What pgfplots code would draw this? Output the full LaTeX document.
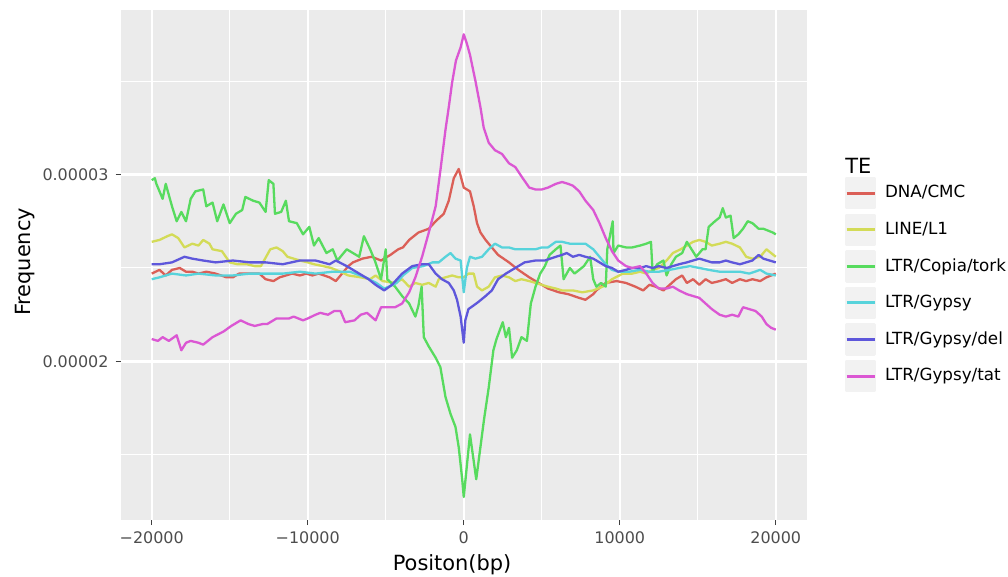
\documentclass[border=0pt]{standalone}
\usepackage{fontspec}
\setmainfont{DejaVu Sans}
\usepackage{pgfplots}
\pgfplotsset{compat=1.18}
\definecolor{panel}{HTML}{EBEBEB}
\definecolor{keybg}{HTML}{F2F2F2}
\definecolor{ticktext}{HTML}{4D4D4D}
\definecolor{teDNA}{HTML}{DB5F57}
\definecolor{teLINE}{HTML}{D3DB57}
\definecolor{teCopia}{HTML}{57DB5E}
\definecolor{teGypsy}{HTML}{57D3DB}
\definecolor{teDel}{HTML}{5E57DB}
\definecolor{teTat}{HTML}{DB57D3}

\begin{document}
\begin{tikzpicture}
\path[use as bounding box] (-60.25bp,-28.5bp) rectangle (443.75bp,260bp);
\begin{axis}[
  scale only axis, width=343.25bp, height=255bp,
  at={(0,0)}, anchor=south west,
  clip mode=individual,
  xmin=-22000, xmax=22000, ymin=1.152, ymax=3.880,
  scaled x ticks=false, scaled y ticks=false,
  axis background/.style={fill=panel},
  axis line style={draw=none},
  xtick={-20000,-10000,0,10000,20000},
  xticklabels={−20000,−10000,0,10000,20000},
  minor xtick={-15000,-5000,5000,15000},
  ytick={2,3}, yticklabels={0.00002,0.00003},
  minor ytick={1.5,2.5,3.5},
  grid=both,
  major grid style={white, line width=1.1bp},
  minor grid style={white, line width=0.5bp},
  tick pos=left, tick align=outside,
  major tick length=2.5bp, minor tick length=0pt,
  tick style={color=black!75, line width=0.5bp},
  ticklabel style={font=\fontsize{8}{9.6}\selectfont, text=ticktext},
  xlabel={Positon(bp)}, ylabel={Frequency},
  label style={font=\fontsize{10.5}{12}\selectfont},
  xlabel style={at={(axis description cs:0.483,-0.088)}, anchor=center},
  ylabel style={at={(axis description cs:-0.139,0.506)}, anchor=center},
  every axis plot/.append style={line width=1.15bp, line join=round},
  legend style={at={(axis description cs:1.0554,0.6725)}, anchor=north west,
    draw=none, fill=none, inner sep=0pt, outer sep=0pt,
    row sep=2.15bp, column sep=2.5bp, font=\fontsize{8.4}{10}\selectfont},
  legend cell align=left,
  legend image code/.code={
    \fill[keybg] (0bp,-7.5bp) rectangle (14bp,7.5bp);
    \draw[#1, line width=1.5bp] (0bp,0bp) -- (14bp,0bp);},
]
% DNA/CMC
\addplot[teDNA] coordinates {
(-20000,2.47)(-19500,2.49)(-19100,2.46)(-18700,2.49)(-18200,2.50)(-17800,2.48)
(-17400,2.48)(-17000,2.47)(-16500,2.48)(-15900,2.47)(-15200,2.45)(-14800,2.45)
(-14400,2.47)(-13700,2.47)(-13100,2.47)(-12700,2.44)(-12200,2.43)(-11800,2.45)
(-11400,2.46)(-11000,2.47)(-10500,2.46)(-10100,2.47)(-9700,2.46)(-9300,2.47)
(-8600,2.45)(-8200,2.43)(-7800,2.47)(-7400,2.51)(-7100,2.53)(-6500,2.55)
(-5900,2.56)(-5300,2.54)(-4700,2.57)(-4200,2.60)(-3900,2.61)(-3500,2.65)
(-2900,2.69)(-2240,2.71)(-1800,2.75)(-1280,2.79)(-960,2.86)(-640,2.98)
(-320,3.03)(0,2.93)(200,2.92)(400,2.91)(640,2.83)(850,2.74)(1070,2.69)
(1400,2.65)(1800,2.61)(2200,2.57)(2900,2.53)(3500,2.49)(4200,2.45)(4800,2.42)
(5400,2.39)(6100,2.37)(6700,2.36)(7400,2.34)(7800,2.33)(8300,2.36)(8500,2.38)
(9100,2.42)(9800,2.43)(10400,2.42)(11000,2.40)(11500,2.38)(11900,2.41)
(12300,2.40)(12800,2.38)(13200,2.41)(13600,2.44)(14000,2.46)(14300,2.42)
(14700,2.44)(15100,2.41)(15500,2.44)(15900,2.42)(16400,2.43)(16800,2.44)
(17200,2.42)(17700,2.44)(18100,2.43)(18500,2.44)(19000,2.43)(19400,2.45)
(20000,2.47)};
\addlegendentry{DNA/CMC}
% LINE/L1
\addplot[teLINE] coordinates {
(-20000,2.64)(-19500,2.65)(-19000,2.67)(-18700,2.68)(-18300,2.66)(-17900,2.61)
(-17400,2.63)(-17000,2.62)(-16700,2.65)(-16300,2.63)(-16100,2.60)(-15500,2.59)
(-15000,2.53)(-14500,2.52)(-13900,2.52)(-13400,2.51)(-13000,2.51)(-12400,2.60)
(-12000,2.61)(-11600,2.59)(-11300,2.56)(-10900,2.55)(-10500,2.54)(-10000,2.53)
(-9600,2.52)(-9000,2.51)(-8500,2.50)(-7900,2.48)(-7400,2.46)(-6600,2.45)
(-6000,2.44)(-5650,2.46)(-5200,2.43)(-4400,2.42)(-3950,2.44)(-3500,2.40)
(-3100,2.42)(-2670,2.41)(-2240,2.42)(-1800,2.40)(-1600,2.44)(-1170,2.45)
(-750,2.46)(-320,2.45)(0,2.45)(300,2.47)(640,2.47)(850,2.40)(1170,2.38)
(1600,2.40)(2000,2.45)(2450,2.46)(2900,2.45)(3300,2.43)(3700,2.44)(4200,2.43)
(4600,2.42)(5000,2.41)(5400,2.40)(5900,2.39)(6300,2.38)(7000,2.38)(7600,2.37)
(8300,2.38)(8900,2.40)(9500,2.44)(10200,2.47)(10800,2.47)(11300,2.48)
(11700,2.47)(12100,2.49)(12500,2.50)(13000,2.54)(13400,2.58)(13900,2.60)
(14300,2.62)(14700,2.64)(15100,2.65)(15500,2.64)(15900,2.62)(16400,2.63)
(16800,2.64)(17200,2.63)(17700,2.61)(18100,2.56)(18500,2.55)(19000,2.56)
(19400,2.60)(19700,2.58)(20000,2.56)};
\addlegendentry{LINE/L1}
% LTR/Copia/tork
\addplot[teCopia] coordinates {
(-20000,2.97)(-19800,2.98)(-19700,2.95)(-19300,2.87)(-19100,2.95)(-18700,2.83)
(-18400,2.75)(-18100,2.80)(-17800,2.75)(-17500,2.87)(-17200,2.91)(-16700,2.92)
(-16500,2.83)(-16100,2.85)(-15800,2.75)(-15400,2.84)(-15000,2.74)(-14600,2.79)
(-14200,2.81)(-14000,2.88)(-13500,2.86)(-13100,2.85)(-12700,2.80)(-12500,2.97)
(-12200,2.95)(-12100,2.79)(-11700,2.80)(-11400,2.86)(-11200,2.75)(-10700,2.74)
(-10300,2.68)(-9900,2.72)(-9600,2.62)(-9300,2.66)(-8800,2.58)(-8400,2.60)
(-8100,2.54)(-7500,2.60)(-7100,2.58)(-6700,2.56)(-6400,2.67)(-6000,2.60)
(-5700,2.54)(-5300,2.44)(-5000,2.60)(-4900,2.44)(-4400,2.40)(-3950,2.35)
(-3500,2.31)(-3100,2.24)(-2900,2.30)(-2700,2.40)(-2560,2.13)(-2240,2.08)
(-1800,2.02)(-1500,1.97)(-1170,1.81)(-850,1.72)(-530,1.65)(-320,1.54)
(-100,1.37)(0,1.275)(400,1.61)(800,1.37)(1300,1.69)(1600,1.86)(1900,2.06)
(2100,2.12)(2500,2.21)(2700,2.13)(2900,2.18)(3100,2.02)(3400,2.06)(3700,2.13)
(4050,2.11)(4300,2.31)(4600,2.40)(4900,2.47)(5200,2.51)(5500,2.57)(5900,2.60)
(6200,2.62)(6400,2.44)(6800,2.50)(7100,2.47)(7400,2.49)(7700,2.51)(8100,2.56)
(8300,2.44)(8500,2.40)(8800,2.42)(9100,2.40)(9200,2.60)(9550,2.75)(9600,2.58)
(9900,2.62)(10400,2.61)(10800,2.61)(11300,2.62)(11700,2.63)(12000,2.64)
(12100,2.48)(12400,2.52)(12800,2.54)(13000,2.46)(13300,2.52)(13600,2.56)
(14000,2.58)(14300,2.64)(14600,2.60)(14900,2.56)(15300,2.60)(15500,2.60)
(15700,2.72)(16100,2.75)(16400,2.77)(16600,2.82)(16800,2.77)(17100,2.78)
(17300,2.66)(17600,2.68)(17900,2.71)(18200,2.75)(18500,2.74)(18900,2.71)
(19200,2.71)(19500,2.70)(19800,2.69)(20000,2.68)};
\addlegendentry{LTR/Copia/tork}
% LTR/Gypsy
\addplot[teGypsy] coordinates {
(-20000,2.44)(-19500,2.45)(-18700,2.47)(-17800,2.46)(-17000,2.47)(-15900,2.46)
(-14800,2.46)(-13700,2.47)(-12700,2.47)(-11600,2.47)(-10500,2.48)(-9500,2.47)
(-8400,2.48)(-7300,2.48)(-6300,2.45)(-5600,2.42)(-5100,2.39)(-4800,2.40)
(-4300,2.42)(-3900,2.46)(-3300,2.50)(-2600,2.51)(-2000,2.53)(-1600,2.53)
(-1170,2.56)(-850,2.58)(-530,2.55)(-200,2.54)(0,2.37)(200,2.50)(400,2.56)
(750,2.55)(1170,2.56)(1600,2.60)(2000,2.63)(2450,2.61)(2900,2.61)(3300,2.60)
(3700,2.60)(4200,2.60)(4600,2.60)(5000,2.61)(5400,2.61)(5900,2.64)(6300,2.64)
(6800,2.63)(7200,2.63)(7800,2.63)(8300,2.60)(8700,2.56)(9100,2.52)(9500,2.49)
(9900,2.48)(10600,2.48)(11300,2.49)(11900,2.48)(12500,2.48)(13200,2.49)
(13800,2.50)(14500,2.51)(15100,2.50)(15700,2.49)(16400,2.48)(17000,2.48)
(17700,2.48)(18300,2.47)(19000,2.49)(19400,2.47)(20000,2.46)};
\addlegendentry{LTR/Gypsy}
% LTR/Gypsy/del
\addplot[teDel] coordinates {
(-20000,2.52)(-19500,2.52)(-18700,2.53)(-17900,2.56)(-17400,2.55)(-16700,2.54)
(-15900,2.53)(-14800,2.54)(-13700,2.53)(-12700,2.53)(-11600,2.52)(-10500,2.54)
(-9500,2.54)(-8600,2.52)(-8200,2.54)(-7500,2.51)(-6900,2.48)(-6100,2.44)
(-5650,2.41)(-5100,2.38)(-4600,2.41)(-3950,2.47)(-3300,2.51)(-2670,2.52)
(-2240,2.52)(-1800,2.47)(-1400,2.44)(-960,2.42)(-640,2.38)(-430,2.33)
(-200,2.24)(0,2.10)(100,2.22)(300,2.28)(640,2.30)(960,2.32)(1400,2.35)
(1800,2.38)(2200,2.44)(2700,2.47)(3300,2.50)(3900,2.53)(4600,2.54)(5200,2.54)
(5900,2.56)(6300,2.57)(6600,2.58)(7000,2.56)(7400,2.57)(7800,2.56)(8300,2.55)
(8700,2.53)(9100,2.51)(9500,2.50)(9900,2.48)(10400,2.49)(10800,2.50)
(11300,2.50)(11700,2.51)(12100,2.50)(12500,2.51)(13000,2.50)(13400,2.51)
(13800,2.52)(14300,2.53)(14700,2.54)(15100,2.55)(15500,2.54)(15900,2.53)
(16400,2.53)(16800,2.54)(17200,2.53)(17700,2.52)(18100,2.53)(18500,2.54)
(18900,2.57)(19200,2.55)(19600,2.54)(20000,2.53)};
\addlegendentry{LTR/Gypsy/del}
% LTR/Gypsy/tat
\addplot[teTat] coordinates {
(-20000,2.12)(-19600,2.11)(-19300,2.13)(-18900,2.11)(-18400,2.14)(-18100,2.06)
(-17800,2.10)(-17500,2.11)(-17000,2.10)(-16700,2.09)(-16100,2.13)(-15400,2.16)
(-14900,2.19)(-14300,2.22)(-13800,2.20)(-13400,2.19)(-12900,2.20)(-12600,2.20)
(-12000,2.23)(-11700,2.23)(-11200,2.23)(-10900,2.24)(-10300,2.22)(-10000,2.23)
(-9500,2.25)(-9200,2.26)(-8700,2.25)(-8300,2.27)(-7900,2.27)(-7600,2.21)
(-7000,2.22)(-6600,2.25)(-6200,2.26)(-5650,2.22)(-5300,2.29)(-4800,2.29)
(-4400,2.29)(-3950,2.31)(-3500,2.37)(-3100,2.45)(-2670,2.56)(-2240,2.69)
(-1800,2.83)(-1500,3.02)(-1170,3.24)(-960,3.36)(-750,3.49)(-500,3.61)
(-200,3.68)(0,3.75)(200,3.70)(400,3.64)(750,3.50)(1070,3.36)(1280,3.25)
(1600,3.17)(2000,3.13)(2450,3.11)(2900,3.06)(3300,3.04)(3700,2.99)(4200,2.93)
(4600,2.92)(5000,2.92)(5400,2.93)(5900,2.95)(6300,2.96)(6700,2.95)(7000,2.94)
(7400,2.91)(7800,2.86)(8300,2.81)(8700,2.74)(9100,2.66)(9500,2.59)(9900,2.54)
(10400,2.51)(10800,2.50)(11300,2.51)(11700,2.47)(12100,2.42)(12500,2.39)
(13000,2.39)(13400,2.40)(13800,2.38)(14300,2.36)(14700,2.35)(15100,2.34)
(15500,2.31)(15900,2.28)(16400,2.25)(16800,2.24)(17200,2.25)(17600,2.24)
(17900,2.29)(18300,2.28)(18700,2.27)(19100,2.24)(19400,2.20)(19700,2.18)
(20000,2.17)};
\addlegendentry{LTR/Gypsy/tat}
\node[anchor=west, font=\fontsize{10.5}{12}\selectfont, inner sep=0pt]
  at (axis description cs:1.0554,0.694) {TE};
\end{axis}
\end{tikzpicture}
\end{document}
